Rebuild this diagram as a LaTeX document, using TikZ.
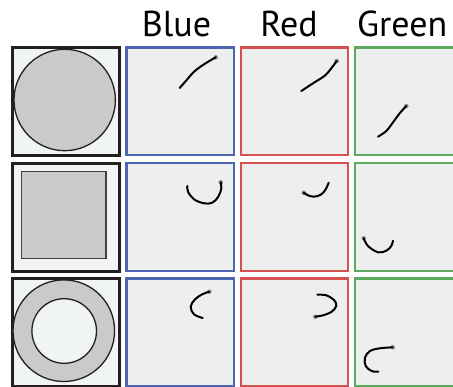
\documentclass[tikz,border=0pt]{standalone}
\usepackage{fontspec}
\setmainfont{PT Sans}
\definecolor{cblue}{HTML}{4F66B0}
\definecolor{cred}{HTML}{D4514F}
\definecolor{cgreen}{HTML}{5DAA5D}
\definecolor{cellbg}{HTML}{EDEEEE}
\definecolor{shapebg}{HTML}{F0F4F5}
\definecolor{shapegray}{HTML}{CCCAC8}
\definecolor{ink}{HTML}{231F20}
\tikzset{
  cellbox/.style={draw=#1, line width=2.3pt, fill=cellbg, rectangle, minimum width=107.6pt, minimum height=107.5pt, inner sep=0pt, anchor=north west},
  shapebox/.style={draw=ink, line width=3pt, fill=shapebg, rectangle, minimum width=107.6pt, minimum height=107.5pt, inner sep=0pt, anchor=north west},
  hdr/.style={inner sep=0pt, anchor=base, font=\fontsize{36}{40}\selectfont},
  stroke/.style={line width=2pt, line cap=round, line join=round, black},
  dotend/.style={fill=black!45, draw=none},
  shapeline/.style={draw=ink, line width=1.3pt}
}
\begin{document}
\begin{tikzpicture}[x=1pt, y=-1pt]
\useasboundingbox (0,0) rectangle (453,386);
\clip (0,0) rectangle (453,386);
\fill[white] (0,0) rectangle (453,386);
% headers
\node[hdr] (lblue) at (176.5,36.7) {Blue};
\node[hdr] (lred) at (289,36.7) {Red};
\node[hdr, anchor=base west] (lgreen) at (357,36.7) {Green};
% rows
\foreach \r/\y in {1/46.3, 2/162, 3/277.3} {
  \node[shapebox] (s\r) at (10.8,\y) {};
  \node[cellbox=cblue] (b\r) at (125.2,\y) {};
  \node[cellbox=cred] (r\r) at (239.5,\y) {};
  \node[cellbox=cgreen] (g\r) at (353.9,\y) {};
}
% shapes
\draw[shapeline, fill=shapegray] (64.7,100) circle (50.7);
\draw[shapeline, draw=ink!85, fill=shapegray] (21.3,171.3) rectangle (106,258.7);
\draw[shapeline, fill=shapegray] (63.8,330.7) circle (50.8);
\draw[shapeline, fill=shapebg] (64.2,331) circle (32.3);
% row 1 strokes
\fill[dotend] (215.7,57.3) circle (2.3);
\draw[stroke] plot[smooth, tension=0.6] coordinates {(215.7,57.3) (204,64.3) (194,71.7) (187.3,79.3) (179.7,88)};
\fill[dotend] (336.7,61) circle (2.3);
\draw[stroke] plot[smooth, tension=0.6] coordinates {(336.7,61) (331.3,68.3) (324.7,75.7) (313,83.3) (301.3,91)};
\fill[dotend] (406.3,106) circle (2.3);
\draw[stroke] plot[smooth, tension=0.6] coordinates {(406.3,106) (399.7,113.3) (392.3,123.3) (386.3,131) (378,136.7)};
% row 2 strokes
\fill[dotend] (220.7,182.3) circle (2.3);
\draw[stroke] plot[smooth, tension=0.6] coordinates {(220.7,182.3) (221.3,188.3) (218.3,196.7) (212.3,202.7) (204,203.3) (194,199.3) (188,191.7) (187.3,186)};
\fill[dotend] (303.7,192.7) circle (2.3);
\draw[stroke] plot[smooth, tension=0.6] coordinates {(303.7,192.7) (308,195.3) (314,196.7) (320.7,194.7) (325.3,190) (328.7,182.7)};
\fill[dotend] (363.7,238.3) circle (2.3);
\draw[stroke] plot[smooth, tension=0.6] coordinates {(363.7,238.3) (368,246) (378,252.3) (386.3,250.7) (391.3,246) (393,240.7)};
% row 3 strokes
\fill[dotend] (209.3,291.7) circle (2.3);
\draw[stroke] plot[smooth, tension=0.6] coordinates {(209.3,291.7) (202.3,294.3) (195,299.3) (190.7,306.7) (194,314.3) (202.7,318)};
\fill[dotend] (315.3,316.7) circle (2.3);
\draw[stroke] plot[smooth, tension=0.6] coordinates {(317.3,294.7) (326.3,295.3) (334,300) (336.3,306) (331.3,312) (323,315.3) (315.3,316.7)};
\fill[dotend] (392.7,347.3) circle (2.3);
\draw[stroke] plot[smooth, tension=0.6] coordinates {(392.7,347.3) (380,348.3) (370,351) (365,357.7) (365.7,366) (371.7,371) (378.3,371.7)};
\end{tikzpicture}
\end{document}
